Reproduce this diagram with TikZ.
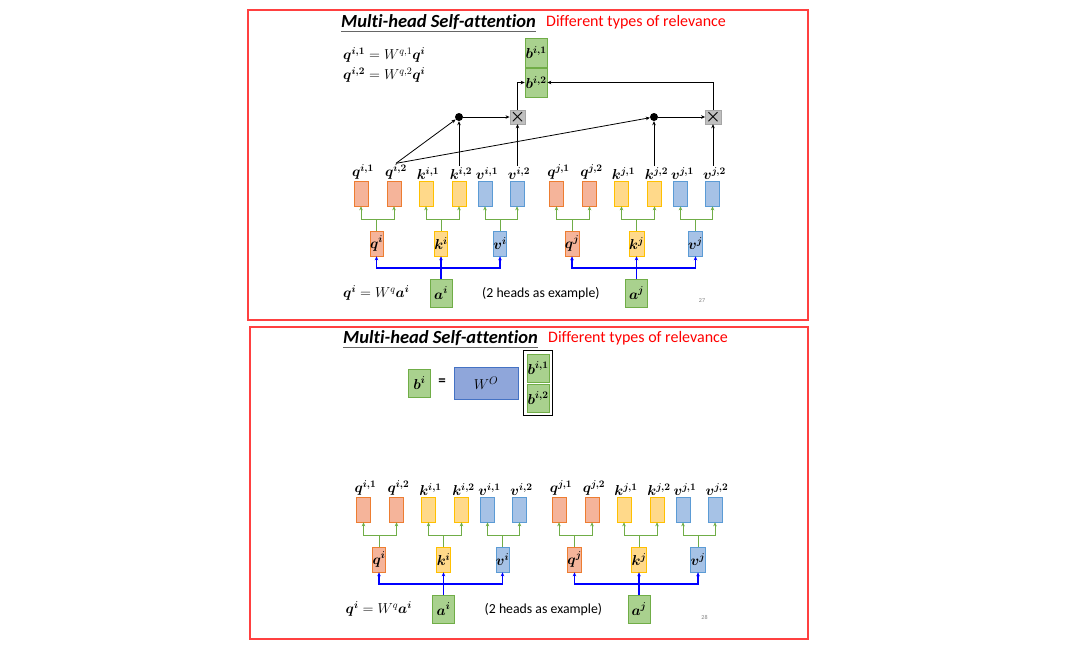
\documentclass[tikz,border=0pt]{standalone}
\usepackage[no-math]{fontspec}
\setmainfont{Carlito}[Ligatures=CommonOff]
\usepackage{amsmath,bm}
\usetikzlibrary{positioning,arrows.meta,fit}

\definecolor{qfill}{RGB}{245,180,154}
\definecolor{qline}{RGB}{237,125,49}
\definecolor{kfill}{RGB}{255,217,138}
\definecolor{kline}{RGB}{255,192,0}
\definecolor{vfill}{RGB}{166,194,230}
\definecolor{vline}{RGB}{91,155,213}
\definecolor{afill}{RGB}{169,209,142}
\definecolor{aline}{RGB}{112,173,71}
\definecolor{gline}{RGB}{112,173,71}
\definecolor{wfill}{RGB}{143,166,218}
\definecolor{wline}{RGB}{68,114,196}
\definecolor{xfill}{RGB}{191,191,191}
\definecolor{xline}{RGB}{166,166,166}
\definecolor{frame}{RGB}{255,64,64}

\tikzset{
  vecbox/.style={minimum width=14pt, minimum height=25pt, inner sep=0pt, line width=0.6pt,
    font=\fontsize{14.5}{16}\selectfont},
  qbox/.style={vecbox, draw=qline, fill=qfill},
  kbox/.style={vecbox, draw=kline, fill=kfill},
  vbox/.style={vecbox, draw=vline, fill=vfill},
  gbox/.style={draw=aline, fill=afill, minimum width=22pt, minimum height=28pt, inner sep=0pt,
    line width=0.6pt, font=\fontsize{14.5}{16}\selectfont},
  lab/.style={inner sep=1pt, font=\fontsize{14.5}{16}\selectfont},
  gconn/.style={draw=gline, line width=1pt, ->},
  bconn/.style={draw=blue, line width=1.3pt, ->},
  conn/.style={draw=black, line width=0.8pt, ->},
  dotnode/.style={circle, fill=black, inner sep=0pt, minimum size=8pt},
  mulbox/.style={draw=xline, fill=xfill, minimum size=14pt, inner sep=0pt,
    font=\fontsize{16}{16}\selectfont},
  panel/.style={draw=frame, line width=2.5pt},
  ttl/.style={inner sep=0pt, anchor=west, font=\fontsize{18.5}{20}\selectfont\bfseries\itshape},
  rel/.style={inner sep=0pt, anchor=west, text=red, font=\fontsize{16}{18}\selectfont},
  uline/.style={draw=black!60, line width=1.2pt},
}

% q, k, v of a^i and a^j, split in two heads
\newcommand{\qkvtree}[1]{%
  \foreach \g/\dx in {i/0,j/195.5}{%
    % head vectors
    \node[qbox] (q\g1) at (361+\dx,193.5) {};
    \node[qbox] (q\g2) at (394+\dx,193.5) {};
    \node[kbox] (k\g1) at (426+\dx,193.5) {};
    \node[kbox] (k\g2) at (459+\dx,193.5) {};
    \node[vbox] (v\g1) at (485+\dx,193.5) {};
    \node[vbox] (v\g2) at (517+\dx,193.5) {};
    \node[lab, above=0pt of q\g1, xshift=2pt] (lq\g1) {$\bm{q^{\g,1}}$};
    \node[lab, above=0pt of q\g2, xshift=2pt] (lq\g2) {$\bm{q^{\g,2}}$};
    \node[lab, above=0pt of k\g1, xshift=2pt] (lk\g1) {$\bm{k^{\g,1}}$};
    \node[lab, above=0pt of k\g2, xshift=2pt] (lk\g2) {$\bm{k^{\g,2}}$};
    \node[lab, above=0pt of v\g1, xshift=2pt] (lv\g1) {$\bm{v^{\g,1}}$};
    \node[lab, above=0pt of v\g2, xshift=2pt] (lv\g2) {$\bm{v^{\g,2}}$};
    % q, k, v and the input
    \node[qbox, minimum width=13pt] (q\g) at (376.5+\dx,243.5) {$\bm{q^{\g}}$};
    \node[kbox, minimum width=13pt] (k\g) at (441+\dx,243.5) {$\bm{k^{\g}}$};
    \node[vbox, minimum width=13pt] (v\g) at (500+\dx,243.5) {$\bm{v^{\g}}$};
    \node[gbox] (a\g) at (441+\dx,293) {$\bm{a^{\g}}$};
    % green splits
    \coordinate (qs\g) at (376.5+\dx,219);
    \coordinate (ks\g) at (441+\dx,219);
    \coordinate (vs\g) at (500+\dx,219);
    \draw[gconn] (q\g) -- (qs\g) -| (q\g1);
    \draw[gconn] (qs\g) -| (q\g2);
    \draw[gconn] (k\g) -- (ks\g) -| (k\g1);
    \draw[gconn] (ks\g) -| (k\g2);
    \draw[gconn] (v\g) -- (vs\g) -| (v\g1);
    \draw[gconn] (vs\g) -| (v\g2);
    % blue fan out
    \coordinate (as\g) at (441+\dx,268);
    \draw[bconn] (a\g) -- (k\g);
    \draw[bconn] (as\g) -| (q\g);
    \draw[bconn] (as\g) -| (v\g);
  }
  \node[lab, anchor=west] (eqa) at (342,293) {$\bm{q^i} = W^{q}\bm{a^i}$};
  \node[anchor=west, inner sep=0pt, font=\fontsize{13.8}{15}\selectfont] (ex) at (482,294) {(2 heads as example)};
  \node[text=gray, font=\fontsize{6}{6}\selectfont] (pg) at (702,301) {#1};
}

\begin{document}
\begin{tikzpicture}[x=1pt, y=-1pt, >={Stealth[length=4pt,width=3.5pt]}]
  \fill[white] (0,0) rectangle (1090,648);

  % Upper slide
  \draw[panel] (248,10) rectangle (808,320);
  \node[ttl] (t1) at (341,22) {Multi-head Self-attention};
  \node[rel] (r1) at (546,22) {Different types of relevance};
  \draw[uline] ([yshift=-4pt]t1.base west) -- ([yshift=-4pt]t1.base east);
  \node[lab, anchor=west] (eq1) at (342,55) {$\bm{q^{i,1}} = W^{q,1}\bm{q^i}$};
  \node[lab, anchor=west] (eq2) at (342,75) {$\bm{q^{i,2}} = W^{q,2}\bm{q^i}$};

  \qkvtree{27}

  % attention of head 2
  \node[dotnode] (dot1) at (459,117) {};
  \node[mulbox] (mul1) at (517.5,117) {$\bm{\times}$};
  \node[dotnode] (dot2) at (654,117) {};
  \node[mulbox] (mul2) at (713,117) {$\bm{\times}$};
  \node[gbox, minimum height=29pt] (bi1) at (536,52.5) {$\bm{b^{i,1}}$};
  \node[gbox, minimum height=29pt] (bi2) at (536,82.5) {$\bm{b^{i,2}}$};
  \draw[conn] (lqi2.north) -- (dot1);
  \draw[conn] (lqi2.north) -- (dot2);
  \draw[conn] (lki2.north -| dot1) -- (dot1);
  \draw[conn] (lvi2.north -| mul1) -- (mul1);
  \draw[conn] (lkj2.north -| dot2) -- (dot2);
  \draw[conn] (lvj2.north -| mul2) -- (mul2);
  \draw[conn] (dot1) -- (mul1);
  \draw[conn] (dot2) -- (mul2);
  \draw[conn] (mul1) |- (bi2);
  \draw[conn] (mul2) |- (bi2);

  % Lower slide
  \draw[panel] (250,327) rectangle (808,639);
  \node[ttl] (t2) at (343,338) {Multi-head Self-attention};
  \node[rel] (r2) at (548,338) {Different types of relevance};
  \draw[uline] ([yshift=-4pt]t2.base west) -- ([yshift=-4pt]t2.base east);

  \node[gbox] (bi) at (419.5,383) {$\bm{b^i}$};
  \node[font=\fontsize{15}{15}\selectfont\bfseries] (eqs) at (442,382) {=};
  \node[draw=wline, fill=wfill, minimum width=64pt, minimum height=32pt, inner sep=0pt,
    font=\fontsize{15}{16}\selectfont] (wo) at (486,383) {$W^O$};
  \node[gbox] (bb1) at (538,368) {$\bm{b^{i,1}}$};
  \node[gbox] (bb2) at (538,398) {$\bm{b^{i,2}}$};
  \node[draw, line width=1.5pt, fit=(bb1)(bb2), inner sep=3pt] (bcat) {};

  \begin{scope}[shift={(2.5,316)}, name prefix=bot-]
    \qkvtree{28}
  \end{scope}
\end{tikzpicture}
\end{document}
